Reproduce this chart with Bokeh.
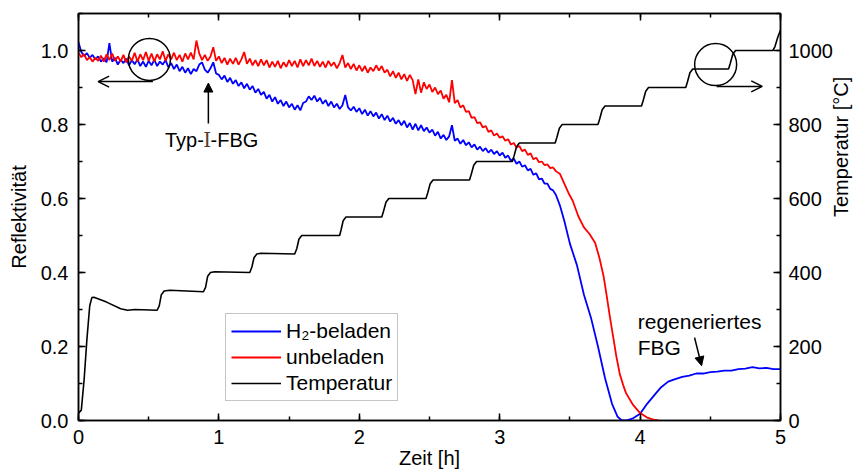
import math
from bokeh.plotting import figure
from bokeh.models import (Range1d, LinearAxis, Legend, LegendItem, Arrow, OpenHead,
                          NormalHead, Label, SingleIntervalTicker, PrintfTickFormatter)
from bokeh.embed import file_html
from bokeh.resources import INLINE

# ---------------- data ----------------
# common time grid of the noisy part [h]
t_grid = [0.00, 0.02, 0.04, 0.06, 0.08, 0.10, 0.12, 0.14, 0.16, 0.18,
          0.20, 0.22, 0.24, 0.26, 0.28, 0.30, 0.32, 0.34, 0.36, 0.38,
          0.40, 0.42, 0.44, 0.46, 0.48, 0.50, 0.52, 0.54, 0.56, 0.58,
          0.60, 0.62, 0.64, 0.66, 0.68, 0.70, 0.72, 0.74, 0.76, 0.78,
          0.80, 0.82, 0.84, 0.86, 0.88, 0.90, 0.92, 0.94, 0.96, 0.98,
          1.00, 1.02, 1.04, 1.06, 1.08, 1.10, 1.12, 1.14, 1.16, 1.18,
          1.20, 1.22, 1.24, 1.26, 1.28, 1.30, 1.32, 1.34, 1.36, 1.38,
          1.40, 1.42, 1.44, 1.46, 1.48, 1.50, 1.52, 1.54, 1.56, 1.58,
          1.60, 1.62, 1.64, 1.66, 1.68, 1.70, 1.72, 1.74, 1.76, 1.78,
          1.80, 1.82, 1.84, 1.86, 1.88, 1.90, 1.92, 1.94, 1.96, 1.98,
          2.00, 2.02, 2.04, 2.06, 2.08, 2.10, 2.12, 2.14, 2.16, 2.18,
          2.20, 2.22, 2.24, 2.26, 2.28, 2.30, 2.32, 2.34, 2.36, 2.38,
          2.40, 2.42, 2.44, 2.46, 2.48, 2.50, 2.52, 2.54, 2.56, 2.58,
          2.60, 2.62, 2.64, 2.66, 2.68, 2.70, 2.72, 2.74, 2.76, 2.78,
          2.80, 2.82, 2.84, 2.86, 2.88, 2.90, 2.92, 2.94, 2.96, 2.98,
          3.00, 3.02, 3.04, 3.06, 3.08, 3.10, 3.12, 3.14, 3.16, 3.18,
          3.20, 3.22, 3.24, 3.26, 3.28, 3.30, 3.32, 3.34, 3.36, 3.38,
          3.40]

# H2-beladen (blue), reflectivity
r_h2_grid = [1.022, 0.996, 0.985, 0.993, 0.980, 0.988, 0.976, 0.984, 0.970, 0.979,
             0.968, 1.020, 0.970, 0.980, 0.962, 0.975, 0.966, 0.978, 0.960, 0.974,
             0.963, 0.976, 0.958, 0.970, 0.956, 0.972, 0.960, 0.975, 0.958, 0.970,
             0.962, 0.974, 0.955, 0.966, 0.950, 0.962, 0.944, 0.956, 0.940, 0.952,
             0.936, 0.950, 0.944, 0.962, 0.968, 0.948, 0.940, 0.952, 0.968, 0.938,
             0.934, 0.922, 0.932, 0.915, 0.926, 0.910, 0.920, 0.904, 0.914, 0.898,
             0.910, 0.894, 0.904, 0.886, 0.896, 0.880, 0.888, 0.870, 0.880, 0.862,
             0.874, 0.856, 0.866, 0.850, 0.862, 0.846, 0.856, 0.840, 0.852, 0.838,
             0.858, 0.862, 0.876, 0.866, 0.878, 0.862, 0.872, 0.856, 0.866, 0.850,
             0.862, 0.846, 0.856, 0.842, 0.852, 0.880, 0.846, 0.838, 0.848, 0.834,
             0.844, 0.828, 0.840, 0.824, 0.836, 0.822, 0.832, 0.816, 0.828, 0.812,
             0.824, 0.808, 0.818, 0.802, 0.812, 0.798, 0.810, 0.792, 0.804, 0.786,
             0.802, 0.784, 0.798, 0.782, 0.792, 0.778, 0.786, 0.770, 0.780, 0.762,
             0.772, 0.758, 0.768, 0.798, 0.756, 0.762, 0.748, 0.758, 0.744, 0.752,
             0.738, 0.746, 0.732, 0.740, 0.728, 0.736, 0.724, 0.732, 0.720, 0.728,
             0.716, 0.724, 0.710, 0.716, 0.702, 0.708, 0.694, 0.700, 0.686, 0.690,
             0.676, 0.680, 0.664, 0.668, 0.652, 0.654, 0.640, 0.640, 0.626, 0.622,
             0.610]
t_h2_tail = [3.43, 3.46, 3.50, 3.55, 3.60, 3.65, 3.70, 3.75, 3.80, 3.84,
             3.87, 3.90, 3.95, 4.00, 4.05, 4.10, 4.15, 4.20, 4.25, 4.30,
             4.35, 4.40, 4.45, 4.50, 4.55, 4.60, 4.65, 4.70, 4.75, 4.80,
             4.85, 4.90, 4.95, 5.00]
r_h2_tail = [0.580, 0.540, 0.478, 0.420, 0.340, 0.278, 0.200, 0.115, 0.045, 0.010,
             0.000, 0.000, 0.006, 0.018, 0.045, 0.068, 0.090, 0.105, 0.112, 0.118,
             0.121, 0.127, 0.127, 0.131, 0.132, 0.135, 0.135, 0.139, 0.140, 0.144,
             0.141, 0.142, 0.139, 0.139]

# unbeladen (red), reflectivity
r_un_grid = [0.994, 0.982, 0.990, 0.974, 0.982, 0.970, 0.980, 0.972, 0.986, 0.970,
             0.990, 0.974, 0.992, 0.972, 0.984, 0.970, 0.988, 0.968, 0.984, 0.972,
             0.994, 0.970, 0.990, 0.974, 0.996, 0.972, 0.992, 0.970, 0.990, 0.976,
             0.998, 0.972, 0.990, 0.976, 0.994, 0.974, 0.988, 0.970, 0.992, 0.976,
             0.994, 0.976, 1.027, 0.992, 0.974, 0.988, 0.972, 0.984, 1.009, 0.972,
             0.984, 0.966, 0.980, 0.962, 0.978, 0.964, 0.980, 0.962, 0.976, 0.996,
             0.964, 0.978, 0.960, 0.974, 0.958, 0.976, 0.960, 0.974, 0.954, 0.970,
             0.956, 0.972, 0.952, 0.968, 0.956, 0.974, 0.958, 0.972, 0.954, 0.976,
             0.958, 0.974, 0.960, 0.978, 0.958, 0.972, 0.956, 0.970, 0.954, 0.972,
             0.958, 0.968, 0.952, 0.966, 0.988, 0.954, 0.966, 0.950, 0.964, 0.946,
             0.960, 0.944, 0.958, 0.940, 0.954, 0.944, 0.960, 0.946, 0.958, 0.940,
             0.948, 0.930, 0.944, 0.926, 0.940, 0.922, 0.936, 0.918, 0.934, 0.920,
             0.882, 0.922, 0.886, 0.914, 0.896, 0.908, 0.888, 0.900, 0.882, 0.892,
             0.870, 0.880, 0.860, 0.920, 0.858, 0.866, 0.846, 0.852, 0.834, 0.836,
             0.818, 0.820, 0.804, 0.806, 0.792, 0.796, 0.780, 0.784, 0.770, 0.776,
             0.764, 0.768, 0.756, 0.760, 0.746, 0.750, 0.738, 0.742, 0.728, 0.732,
             0.718, 0.722, 0.706, 0.710, 0.698, 0.700, 0.690, 0.692, 0.682, 0.684,
             0.674]
t_un_tail = [3.43, 3.46, 3.49, 3.52, 3.56, 3.60, 3.64, 3.68, 3.71, 3.74, 3.76,
             3.785, 3.81, 3.83, 3.855, 3.88, 3.90, 3.95, 4.00, 4.05, 4.10, 4.13]
r_un_tail = [0.666, 0.640, 0.615, 0.594, 0.552, 0.522, 0.504, 0.480, 0.440, 0.390, 0.342,
             0.280, 0.222, 0.175, 0.126, 0.095, 0.074, 0.042, 0.020, 0.008, 0.002, 0.000]

# temperature (black), degC
t_temp = [0.000, 0.020, 0.040, 0.060, 0.080, 0.095, 0.110, 0.200, 0.300, 0.350, 0.400, 0.560,
          0.575, 0.590, 0.610, 0.650, 0.890, 0.905, 0.920, 0.940, 0.970, 1.220, 1.235, 1.250,
          1.270, 1.300, 1.540, 1.555, 1.570, 1.590, 1.860, 1.870, 1.885, 1.905, 2.160, 2.172,
          2.190, 2.210, 2.475, 2.487, 2.505, 2.525, 2.785, 2.797, 2.815, 2.835, 3.090, 3.102,
          3.120, 3.140, 3.395, 3.407, 3.425, 3.445, 3.700, 3.712, 3.730, 3.750, 4.010, 4.022,
          4.040, 4.060, 4.325, 4.337, 4.355, 4.375, 4.630, 4.642, 4.660, 4.680, 4.945, 4.960,
          4.980, 5.000]
temp = [20, 28, 110, 220, 310, 332, 333, 320, 302, 298, 300, 298,
        310, 340, 350, 352, 348, 360, 390, 400, 402, 400, 415, 440,
        450, 452, 450, 465, 490, 500, 500, 515, 540, 550, 550, 565,
        590, 600, 600, 615, 640, 650, 650, 665, 690, 700, 700, 715,
        740, 750, 750, 765, 790, 800, 800, 815, 840, 850, 850, 865,
        890, 900, 900, 915, 940, 950, 950, 965, 990, 1000, 1000, 1010,
        1035, 1055]

series_names = ["H\u2082-beladen", "unbeladen", "Temperatur"]
x_label = "Zeit [h]"
y_label = "Reflektivit\u00e4t"
y2_label = "Temperatur [\u00b0C]"

t_h2 = t_grid + t_h2_tail
r_h2 = r_h2_grid + r_h2_tail
t_un = t_grid + t_un_tail
r_un = r_un_grid + r_un_tail

FONT = "Liberation Sans"

p = figure(width=865, height=474, output_backend="svg", toolbar_location=None,
           x_range=Range1d(0, 5), y_range=Range1d(0, 1.1),
           min_border_left=78, min_border_right=84, min_border_top=13, min_border_bottom=54)
p.extra_y_ranges = {"temp": Range1d(0, 1100)}
p.grid.visible = False
p.outline_line_color = "black"
p.outline_line_width = 1.5
p.background_fill_color = "white"
p.border_fill_color = "white"

def style_axis(ax, interval, standoff):
    ax.ticker = SingleIntervalTicker(interval=interval, num_minor_ticks=2)
    ax.major_tick_in = 7
    ax.major_tick_out = 0
    ax.minor_tick_in = 4
    ax.minor_tick_out = 0
    ax.axis_line_width = 1.5
    ax.major_tick_line_width = 1.5
    ax.minor_tick_line_width = 1.5
    ax.major_label_text_font = FONT
    ax.major_label_text_font_size = "20px"
    ax.major_label_text_color = "black"
    ax.major_label_standoff = standoff
    ax.axis_label_text_font = FONT
    ax.axis_label_text_font_size = "20px"
    ax.axis_label_text_font_style = "normal"
    ax.axis_label_text_color = "black"

xa = p.xaxis[0]
style_axis(xa, 1, 9)
xa.axis_label = x_label
xa.axis_label_standoff = 0

ya = p.yaxis[0]
style_axis(ya, 0.2, 10)
ya.formatter = PrintfTickFormatter(format="%.1f")
ya.axis_label = y_label
ya.axis_label_standoff = 8

ra = LinearAxis(y_range_name="temp")
style_axis(ra, 200, 8)
ra.axis_label = y2_label
ra.axis_label_standoff = 5
ra.axis_label_orientation = math.pi / 2
p.add_layout(ra, "right")

ta = LinearAxis()
style_axis(ta, 1, 0)
ta.major_label_overrides = {0: "", 1: "", 2: "", 3: "", 4: "", 5: ""}
ta.major_label_text_font_size = "0px"
p.add_layout(ta, "above")

l1 = p.line(t_h2, r_h2, line_color="#0000FF", line_width=1.8)
l2 = p.line(t_un, r_un, line_color="#FF0000", line_width=1.8)
l3 = p.line(t_temp, temp, line_color="black", line_width=1.6, y_range_name="temp")

legend = Legend(items=[LegendItem(label=series_names[0], renderers=[l1]),
                       LegendItem(label=series_names[1], renderers=[l2]),
                       LegendItem(label=series_names[2], renderers=[l3])],
                location=(147, 19), margin=0, padding=5, spacing=2,
                glyph_width=50, glyph_height=24, label_height=24, label_standoff=5,
                label_text_font=FONT, label_text_font_size="21px", label_text_color="black",
                border_line_color="#8c8c8c", border_line_width=1,
                background_fill_alpha=1.0)
p.add_layout(legend)

# ---------------- annotations ----------------
p.scatter([0.505], [0.976], marker="circle", size=42, fill_color=None,
          line_color="black", line_width=1.5)
p.scatter([4.538], [962], marker="circle", size=42, fill_color=None,
          line_color="black", line_width=1.5, y_range_name="temp")

p.add_layout(Arrow(end=OpenHead(size=11, line_width=1.5), x_start=0.53, y_start=0.916,
                   x_end=0.14, y_end=0.916, line_width=1.5))
p.add_layout(Arrow(end=OpenHead(size=11, line_width=1.5), x_start=4.545, y_start=903,
                   x_end=4.87, y_end=903, line_width=1.5, y_range_name="temp"))
p.add_layout(Arrow(end=NormalHead(size=9, fill_color="black", line_width=1), x_start=0.925,
                   y_start=0.803, x_end=0.925, y_end=0.912, line_width=1.5))
p.add_layout(Arrow(end=NormalHead(size=9, fill_color="black", line_width=1), x_start=4.388,
                   y_start=0.224, x_end=4.438, y_end=0.148, line_width=1.5))

# "Typ-I-FBG" with a serif Roman numeral in the middle
p.add_layout(Label(x=0.944, y=0.759, x_offset=-7.2, text="Typ-", text_align="right",
                   text_baseline="middle", text_font=FONT, text_font_size="20px",
                   text_color="black"))
p.add_layout(Label(x=0.944, y=0.759, x_offset=-3.8, text="\u2160", text_align="center",
                   text_baseline="middle",
                   text_font="Liberation Serif, DejaVu Serif, serif",
                   text_font_size="20px", text_color="#5a3c28"))
p.add_layout(Label(x=0.944, y=0.759, x_offset=-0.5, text="-FBG", text_align="left",
                   text_baseline="middle", text_font=FONT, text_font_size="20px",
                   text_color="black"))

p.add_layout(Label(x=3.983, y=0.268, text="regeneriertes", text_align="left",
                   text_baseline="middle", text_font=FONT, text_font_size="21px",
                   text_color="black"))
p.add_layout(Label(x=3.983, y=0.197, text="FBG", text_align="left",
                   text_baseline="middle", text_font=FONT, text_font_size="21px",
                   text_color="black"))

open("out.html", "w").write(file_html(p, INLINE))
